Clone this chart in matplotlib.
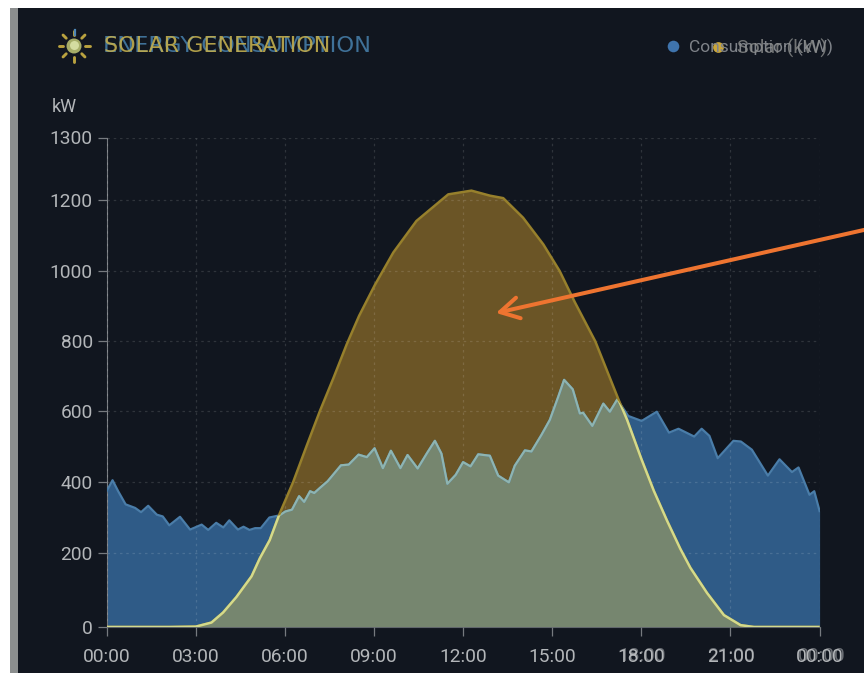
import numpy as np
import matplotlib
matplotlib.use("Agg")
import matplotlib.pyplot as plt
from matplotlib.patches import Rectangle, Circle
from matplotlib.lines import Line2D

# ---- data ----
cons_hours = [0.00,0.20,0.39,0.64,0.96,1.16,1.40,1.69,1.89,2.11,2.47,2.81,3.20,3.42,3.69,3.93,4.13,4.42,4.61,4.81,
              5.00,5.19,5.48,5.82,6.02,6.24,6.48,6.65,6.85,6.99,7.19,7.44,7.89,8.15,8.48,8.76,9.02,9.30,9.57,9.89,
              10.13,10.47,10.79,11.05,11.27,11.47,11.75,12.00,12.25,12.51,12.90,13.18,13.54,13.74,14.08,14.30,14.64,14.92,
              15.20,15.40,15.69,15.93,16.04,16.35,16.72,16.94,17.19,17.56,18.01,18.52,18.93,19.25,19.78,20.03,20.29,20.57,
              21.10,21.35,21.72,22.26,22.65,23.07,23.29,23.66,23.82,24.00]
cons_kw = [374,405,374,337,327,315,333,308,303,278,302,266,280,265,285,272,292,266,274,265,
           270,270,300,306,317,322,360,344,374,369,384,402,447,449,477,470,495,439,488,439,
           476,438,482,516,480,395,420,456,444,478,474,418,399,446,489,486,533,575,
           640,689,662,593,595,558,621,598,633,586,572,598,539,550,528,550,530,467,
           516,514,491,418,464,428,441,364,374,318]
solar_hours = [0.00,2.12,3.00,3.53,3.92,4.37,4.88,5.16,5.49,5.83,6.28,6.73,7.18,7.63,8.08,8.50,9.03,9.65,10.43,
               11.50,12.28,12.90,13.35,14.02,14.70,15.25,15.76,16.45,17.24,17.52,18.00,18.42,18.87,19.31,19.65,
               20.21,20.78,21.34,21.79,24.00]
solar_kw = [0,0,1,12,39,81,137,186,236,312,400,501,600,693,790,872,960,1052,1141,
            1209,1215,1207,1203,1150,1075,1000,911,799,631,575,465,375,290,212,160,
            92,32,5,0,0]
x_ticks = [0,3,6,9,12,15,18,21,24]
x_labels = ["00:00","03:00","06:00","09:00","12:00","15:00","18:00","21:00","00:00"]
y_ticks = [0,200,400,600,800,1000,1200,1300]
y_pos = [0,74,145,216,286,356,427,489.5]   # drawn height of each tick: the reference axis is uneven

W, H = 864, 673
BG = "#11161f"
fig = plt.figure(figsize=(W/100, H/100), dpi=100, facecolor=BG)
L, R, T, B = 106.6, 819.6, 137.5, 627.0
ax = fig.add_axes([L/W, 1-B/H, (R-L)/W, (B-T)/H])
ax.patch.set_alpha(0)

fwd = lambda v: np.interp(v, y_ticks, y_pos)
inv = lambda p: np.interp(p, y_pos, y_ticks)
ax.set_yscale("function", functions=(fwd, inv))
ax.set_xlim(0, 24)
ax.set_ylim(0, 1300)

# fills: blue, brown, and sage where the two overlap
blue = ax.fill_between(cons_hours, cons_kw, 0, color="#2f5b87", lw=0, zorder=1)
brown = ax.fill_between(solar_hours, solar_kw, 0, color="#6b5526", lw=0, zorder=2)
sage = ax.fill_between(cons_hours, cons_kw, 0, color="#76866f", lw=0, zorder=3)
solar_path = brown.get_paths()[0]
sage.set_clip_path(solar_path, brown.get_transform())

# outlines
cl1, = ax.plot(cons_hours, cons_kw, color="#4a7da9", lw=1.6, zorder=4)
cl2, = ax.plot(cons_hours, cons_kw, color="#8fb5b0", lw=1.6, zorder=5)
cl2.set_clip_path(solar_path, brown.get_transform())
sl1, = ax.plot(solar_hours, solar_kw, color="#97802c", lw=1.8, zorder=6)
sl2, = ax.plot(solar_hours, solar_kw, color="#d3da8c", lw=1.8, zorder=7)
sl2.set_clip_path(blue.get_paths()[0], blue.get_transform())

# grid above the fills
ax.set_xticks(x_ticks, x_labels)
ax.set_yticks(y_ticks, [str(t) for t in y_ticks])
ax.grid(True, color="#ffffff", alpha=0.13, lw=0.9, linestyle=(0, (2, 3)), zorder=8)
ax.set_axisbelow(False)
for s in ("top", "right"):
    ax.spines[s].set_visible(False)
ax.spines["left"].set_color("#767a7f")
ax.spines["bottom"].set_color("#60666b")
ax.tick_params(axis="both", length=6.5, width=0.9, color="#767a7f", labelcolor="#b3b6b9",
               labelsize=13.8, pad=3.5)
for lab in ax.get_xticklabels() + ax.get_yticklabels():
    lab.set_family("Roboto")
ax.tick_params(axis="x", pad=8.5)

# overlay in image pixels for frame, title, legend, icon and arrow
ov = fig.add_axes([0, 0, 1, 1], zorder=10)
ov.set_xlim(0, W); ov.set_ylim(H, 0); ov.axis("off"); ov.patch.set_alpha(0)
ov.add_patch(Rectangle((0, 0), W, 8, color="white", lw=0))
ov.add_patch(Rectangle((0, 0), 10, H, color="white", lw=0))
ov.add_patch(Rectangle((10, 8), 8, H, color="#8b8e8e", lw=0))

# doubled titles
ov.text(103, 46, "ENERGY CONSUMPTION", color="#3f7198", family="DejaVu Sans", fontsize=16.2,
        va="center", ha="left")
ov.text(104, 46, "SOLAR GENERATION", color="#c2ae4e", family="DejaVu Sans", fontsize=16.0,
        va="center", ha="left", alpha=0.9)

# sun icon
cx, cy = 74, 46
for a in np.arange(0, 360, 45):
    t = np.radians(a)
    ov.add_line(Line2D([cx+11*np.cos(t), cx+15.5*np.cos(t)], [cy+11*np.sin(t), cy+15.5*np.sin(t)],
                       color="#b9a23f", lw=2.1, solid_capstyle="round"))
ov.add_line(Line2D([cx+1, cx+1], [cy-16, cy-11], color="#4d86b5", lw=1.6))
ov.add_patch(Circle((cx, cy), 7.5, color="#a6ad68", lw=0))
ov.add_patch(Circle((cx+0.5, cy-0.5), 4.5, color="#d4dca0", lw=0))

# doubled legends
ov.scatter([672.5], [46], s=70, color="#3f74ad", lw=0)
ov.text(689, 47, "Consumption (kW)", color="#7f8389", family="Roboto", fontsize=12.5, va="center", ha="left")
ov.text(737, 48, "Solar (kW)", color="#8b8d8c", family="Roboto", fontsize=14, va="center", ha="left", alpha=0.8)
ov.scatter([718], [47], s=60, color="#c9a53a", lw=0)

ov.text(52, 107, "kW", color="#b3b6b9", family="Roboto", fontsize=13, va="center", ha="left")

# ghosted tick labels of the second chart
for gx, lab in [(642, "18:00"), (731, "21:00"), (822, "00:00")]:
    ov.text(gx, 656, lab, color="#b3b6b9", family="Roboto", fontsize=13.8, va="center", ha="center", alpha=0.55)

# arrow
ov.annotate("", xy=(496, 313), xytext=(866, 229.5),
            arrowprops=dict(arrowstyle="->,head_length=0.75,head_width=0.42", color="#ee7430",
                            lw=2.9, mutation_scale=18, shrinkA=0, shrinkB=0, capstyle="round"))

fig.savefig("out.png", dpi=100, facecolor=BG)
